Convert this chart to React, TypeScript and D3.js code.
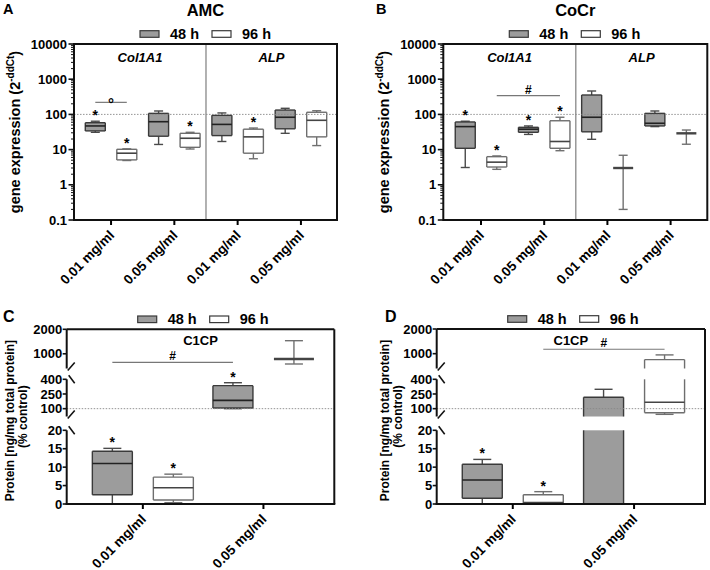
import React from "react";
import * as d3 from "d3";

const FONT = "'Liberation Sans', Arial, Helvetica, sans-serif";

// ---------- data ----------
const timepoints = ["48 h", "96 h"];
const genes = ["Col1A1", "ALP"];
const concentrations = ["0.01 mg/ml", "0.05 mg/ml"];
const logTickValues = [0.1, 1, 10, 100, 1000, 10000];

// box stats [min, q1, median, q3, max]; order: Col1A1 0.01, Col1A1 0.05, ALP 0.01, ALP 0.05
const amc48h = [[31, 34, 47, 58, 64], [14, 24, 62, 107, 125], [17, 25, 52, 94, 110], [29, 39, 83, 133, 149]];
const amc96h = [[4.9, 5.1, 7.9, 10.2, 10.5], [10.4, 11.6, 21, 29, 31], [5.5, 7.9, 23, 38, 41], [13, 23, 68, 115, 127]];
const amcStars48h = [true, false, false, false];
const amcStars96h = [true, true, true, false];

const cocr48h = [[3.1, 10.9, 45, 61, 64], [27, 31, 38, 43, 47], [19.6, 32, 83, 356, 462], [45, 47, 56, 107, 125]];
const cocr96h = [[2.75, 3.2, 4.4, 6.3, 6.6], [9.3, 10.9, 17, 66, 83], [0.2, 3, 3, 3, 6.9], [14.2, 29, 29, 29, 36]];
const cocrStars48h = [true, true, false, false];
const cocrStars96h = [true, true, false, false];

const proteinConcentrations = ["0.01 mg/ml", "0.05 mg/ml"];
const amcC1cp48h = [[0, 2.5, 11, 14.3, 15.1], [100, 107, 185, 335, 365]];
const amcC1cp96h = [[0.35, 1.1, 4.4, 7.3, 8.1], [584, 788, 788, 788, 1535]];
const amcC1cpStars48h = [true, true];
const amcC1cpStars96h = [true, false];

const cocrC1cp48h = [[0, 1.55, 6.5, 10.8, 12.1], [0, 0, 0, 216, 298]];
const cocrC1cp96h = [[0.1, 0.3, 0.4, 2.5, 3.35], [42, 59, 165, 759, 951]];
const cocrC1cpStars48h = [true, false];
const cocrC1cpStars96h = [true, false];

const brokenSegments = [[0, 20], [20, 400], [400, 2000]];
const brokenTicks = [[0, 5, 10, 15, 20], [100, 250, 400], [1000, 2000]];

// ---------- styles ----------
const BOX_STYLE: any = {
  "48 h": { fill: "#9c9c9c", stroke: "#3a3a3a", whisker: "#4a4a4a", median: "#222" },
  "96 h": { fill: "#ffffff", stroke: "#6e6e6e", whisker: "#707070", median: "#444" },
};

type Seg = { lo: number; hi: number; s: (v: number) => number };

function BoxGlyph({ cx, w, cap, stats, segs, style }: any) {
  const [mn, q1, md, q3, mx] = stats;
  const segOf = (v: number) => segs.find((s: Seg) => v >= s.lo && v <= s.hi) || segs[segs.length - 1];
  const Y = (v: number) => segOf(v).s(v);
  const clip = (a: number, b: number) =>
    segs
      .map((s: Seg) => [Math.max(a, s.lo), Math.min(b, s.hi), s] as [number, number, Seg])
      .filter(([a2, b2]: any) => b2 > a2);
  const els: any[] = [];
  [...clip(mn, q1), ...clip(q3, mx)].forEach(([a, b, s], i) => {
    els.push(<line key={"w" + i} x1={cx} x2={cx} y1={s.s(a)} y2={s.s(b)} stroke={style.whisker} strokeWidth={1.4} />);
  });
  if (mx > q3) els.push(<line key="cmax" x1={cx - cap / 2} x2={cx + cap / 2} y1={Y(mx)} y2={Y(mx)} stroke={style.whisker} strokeWidth={1.4} />);
  if (mn < q1) els.push(<line key="cmin" x1={cx - cap / 2} x2={cx + cap / 2} y1={Y(mn)} y2={Y(mn)} stroke={style.whisker} strokeWidth={1.4} />);
  clip(q1, q3).forEach(([a, b, s], i) => {
    const yt = s.s(b), yb = s.s(a);
    els.push(<rect key={"r" + i} x={cx - w / 2} y={yt} width={w} height={yb - yt} fill={style.fill} />);
    els.push(<line key={"sl" + i} x1={cx - w / 2} x2={cx - w / 2} y1={yt} y2={yb} stroke={style.stroke} strokeWidth={1.4} />);
    els.push(<line key={"sr" + i} x1={cx + w / 2} x2={cx + w / 2} y1={yt} y2={yb} stroke={style.stroke} strokeWidth={1.4} />);
    if (b === q3) els.push(<line key={"t" + i} x1={cx - w / 2} x2={cx + w / 2} y1={yt} y2={yt} stroke={style.stroke} strokeWidth={1.4} />);
    if (a === q1) els.push(<line key={"b" + i} x1={cx - w / 2} x2={cx + w / 2} y1={yb} y2={yb} stroke={style.stroke} strokeWidth={1.4} />);
  });
  els.push(<line key="md" x1={cx - w / 2} x2={cx + w / 2} y1={Y(md)} y2={Y(md)} stroke={style.median} strokeWidth={q1 === q3 ? 2.4 : 1.6} />);
  return <g>{els}</g>;
}

function Legend({ L, T, off }: any) {
  const yc = T - 10;
  const x0 = L + off;
  return (
    <g fontFamily={FONT} fontWeight="bold" fontSize={14.5}>
      <rect x={x0} y={yc - 3.3} width={19} height={6.6} fill={BOX_STYLE["48 h"].fill} stroke="#3a3a3a" strokeWidth={1.2} />
      <text x={x0 + 30} y={yc + 5}>{timepoints[0]}</text>
      <rect x={x0 + 72} y={yc - 3.3} width={19} height={6.6} fill="#fff" stroke="#3a3a3a" strokeWidth={1.2} />
      <text x={x0 + 102} y={yc + 5}>{timepoints[1]}</text>
    </g>
  );
}

function Bracket({ x1, x2, y, label, fontSize }: any) {
  return (
    <g>
      <line x1={x1} x2={x2} y1={y} y2={y} stroke="#777" strokeWidth={1.2} />
      <text x={(x1 + x2) / 2} y={label === "°" ? y + 6.5 : y - 2} textAnchor="middle" fontFamily={FONT} fontWeight="bold" fontSize={fontSize}>
        {label}
      </text>
    </g>
  );
}

function Star({ x, y }: any) {
  return (
    <text x={x} y={y} textAnchor="middle" fontFamily={FONT} fontWeight="bold" fontSize={14}>
      *
    </text>
  );
}

function XLabels({ xs, labels, B }: any) {
  return (
    <g fontFamily={FONT} fontWeight="bold" fontSize={13.5}>
      {xs.map((x: number, i: number) => (
        <g key={i}>
          <line x1={x} x2={x} y1={B} y2={B + 5} stroke="#000" strokeWidth={2} />
          <text transform={`translate(${x + 4},${B + 16}) rotate(-45)`} textAnchor="end">
            {labels[i]}
          </text>
        </g>
      ))}
    </g>
  );
}

function GenePanel(p: any) {
  const { L, R, T, B, po, align, title, letter, letterX, ylabX, d48, d96, s48, s96, bracket } = p;
  const y = d3.scaleLog().domain([0.1, 10000]).range([B, T]);
  const cats = genes.flatMap((g) => concentrations.map((c) => `${g}|${c}`));
  const x = d3.scaleBand().domain(cats).range([L, R]).paddingInner(0).paddingOuter(po).align(align);
  const off = d3.scalePoint().domain(timepoints).range([-15.75, 15.75]);
  const center = (i: number) => (x(cats[i]) as number) + x.bandwidth() / 2;
  const cx = (i: number, t: string) => center(i) + (off(t) as number);
  const segs: Seg[] = [{ lo: 0.1, hi: 10000, s: y }];
  const divider = x(cats[2]) as number;
  const minor: number[] = [];
  for (let k = -1; k < 4; k++) for (let m = 2; m <= 9; m++) minor.push(m * Math.pow(10, k));
  const series = [
    { t: timepoints[0], d: d48, s: s48 },
    { t: timepoints[1], d: d96, s: s96 },
  ];
  return (
    <g>
      <text x={letterX} y={14} fontFamily={FONT} fontWeight="bold" fontSize={14.5}>{letter}</text>
      <text x={(L + R) / 2} y={16} textAnchor="middle" fontFamily={FONT} fontWeight="bold" fontSize={16.5}>{title}</text>
      <Legend L={L} T={T} off={66} />
      <g fontFamily={FONT} fontWeight="bold" fontStyle="italic" fontSize={13}>
        <text x={(L + divider) / 2} y={T + 18} textAnchor="middle">{genes[0]}</text>
        <text x={(divider + R) / 2} y={T + 18} textAnchor="middle">{genes[1]}</text>
      </g>
      <line x1={divider} x2={divider} y1={T} y2={B} stroke="#888" strokeWidth={1.3} />
      {series.map((sr) =>
        sr.d.map((st: number[], i: number) => (
          <BoxGlyph key={sr.t + i} cx={cx(i, sr.t)} w={20} cap={9} stats={st} segs={segs} style={BOX_STYLE[sr.t]} />
        ))
      )}
      <line x1={L} x2={R} y1={y(100)} y2={y(100)} stroke="#888" strokeWidth={0.9} strokeDasharray="1.5,1.5" />
      {series.map((sr) =>
        sr.s.map((on: boolean, i: number) => (on ? <Star key={"st" + sr.t + i} x={cx(i, sr.t)} y={y(sr.d[i][4]) - 1} /> : null))
      )}
      <Bracket x1={cx(bracket.from[0], bracket.from[1])} x2={cx(bracket.to[0], bracket.to[1])} y={y(bracket.value)} label={bracket.label} fontSize={bracket.label === "°" ? 15 : 12} />
      <rect x={L} y={T} width={R - L} height={B - T} fill="none" stroke="#111" strokeWidth={2} />
      {minor.map((v) => (
        <line key={"mn" + v} x1={L - 3} x2={L} y1={y(v)} y2={y(v)} stroke="#111" strokeWidth={1} />
      ))}
      <g fontFamily={FONT} fontWeight="bold" fontSize={13}>
        {logTickValues.map((v) => (
          <g key={"t" + v}>
            <line x1={L - 5.5} x2={L} y1={y(v)} y2={y(v)} stroke="#111" strokeWidth={1.6} />
            <text x={L - 7} y={y(v)} dy="0.36em" textAnchor="end">{d3.format("~g")(v)}</text>
          </g>
        ))}
      </g>
      <text transform={`translate(${ylabX},${(T + B) / 2}) rotate(-90)`} textAnchor="middle" fontFamily={FONT} fontWeight="bold" fontSize={14.5}>
        <tspan>gene expression (2</tspan>
        <tspan dy={-6} fontSize={10}>-ddCt</tspan>
        <tspan dy={6}>)</tspan>
      </text>
      <XLabels xs={cats.map((_, i) => center(i))} labels={cats.map((c) => c.split("|")[1])} B={B} />
    </g>
  );
}

function ProteinPanel(p: any) {
  const { L, R, T, B, po, align, letter, letterX, ylabX1, ylabX2, d48, d96, s48, s96, bracket, segPx } = p;
  const segs: Seg[] = brokenSegments.map((dom, i) => {
    const sc = d3.scaleLinear().domain(dom).range(segPx[i]);
    return { lo: dom[0], hi: dom[1], s: (v: number) => sc(v) };
  });
  const yAny = (v: number) => (segs.find((s) => v >= s.lo && v <= s.hi) || segs[2]).s(v);
  const x = d3.scaleBand().domain(proteinConcentrations).range([L, R]).paddingInner(0).paddingOuter(po).align(align);
  const off = d3.scalePoint().domain(timepoints).range([-30.5, 30.5]);
  const center = (i: number) => (x(proteinConcentrations[i]) as number) + x.bandwidth() / 2;
  const cx = (i: number, t: string) => center(i) + (off(t) as number);
  const series = [
    { t: timepoints[0], d: d48, s: s48 },
    { t: timepoints[1], d: d96, s: s96 },
  ];
  return (
    <g>
      <text x={letterX} y={T - 7} fontFamily={FONT} fontWeight="bold" fontSize={16}>{letter}</text>
      <Legend L={L} T={T} off={71} />
      <text x={(L + R) / 2} y={T + 16} textAnchor="middle" fontFamily={FONT} fontWeight="bold" fontSize={13}>C1CP</text>
      {series.map((sr) =>
        sr.d.map((st: number[], i: number) => (
          <BoxGlyph key={sr.t + i} cx={cx(i, sr.t)} w={40} cap={18} stats={st} segs={segs} style={BOX_STYLE[sr.t]} />
        ))
      )}
      <line x1={L} x2={R} y1={yAny(100)} y2={yAny(100)} stroke="#888" strokeWidth={0.9} strokeDasharray="1.5,1.5" />
      {series.map((sr) =>
        sr.s.map((on: boolean, i: number) => (on ? <Star key={"st" + sr.t + i} x={cx(i, sr.t)} y={yAny(sr.d[i][4]) - 1} /> : null))
      )}
      <Bracket x1={cx(bracket.from[0], bracket.from[1])} x2={cx(bracket.to[0], bracket.to[1])} y={yAny(bracket.value)} label={bracket.label} fontSize={12} />
      <line x1={L} x2={R} y1={T} y2={T} stroke="#111" strokeWidth={2} />
      <line x1={R} x2={R} y1={T} y2={B} stroke="#111" strokeWidth={2} />
      <line x1={L - 1} x2={R + 1} y1={B} y2={B} stroke="#111" strokeWidth={2} />
      {segs.map((s, i) => (
        <line key={"ax" + i} x1={L} x2={L} y1={s.s(s.lo) + (i === 0 ? 1 : 0)} y2={s.s(s.hi)} stroke="#111" strokeWidth={2} />
      ))}
      {segs.slice(0, -1).map((s, i) => (
        <g key={"br" + i}>
          <line x1={L + 2} x2={L + 8} y1={s.s(s.hi) - 4} y2={s.s(s.hi) + 4} stroke="#111" strokeWidth={1.6} />
          <line x1={L + 1} x2={L + 8} y1={segs[i + 1].s(segs[i + 1].lo) + 2} y2={segs[i + 1].s(segs[i + 1].lo) - 6} stroke="#111" strokeWidth={1.6} />
        </g>
      ))}
      <g fontFamily={FONT} fontWeight="bold" fontSize={13}>
        {brokenTicks.map((ticks, i) =>
          ticks.map((v) => (
            <g key={"t" + i + "_" + v}>
              <line x1={L - 4} x2={L} y1={segs[i].s(v)} y2={segs[i].s(v)} stroke="#111" strokeWidth={1.6} />
              <text x={L - 4.5} y={segs[i].s(v)} dy="0.36em" textAnchor="end">{v}</text>
            </g>
          ))
        )}
      </g>
      <g fontFamily={FONT} fontWeight="bold" fontSize={12}>
        <text transform={`translate(${ylabX1},${(T + B) / 2 + 4}) rotate(-90)`} textAnchor="middle">Protein [ng/mg total protein]</text>
        <text transform={`translate(${ylabX2},${(T + B) / 2}) rotate(-90)`} textAnchor="middle">(% control)</text>
      </g>
      <XLabels xs={proteinConcentrations.map((_, i) => center(i))} labels={proteinConcentrations} B={B} />
    </g>
  );
}

export default function App() {
  return (
    <svg width={710} height={570} viewBox="0 0 710 570" style={{ position: "absolute", left: 0, top: 0, background: "#fff" }}>
      <rect width={710} height={570} fill="#fff" />
      <GenePanel
        L={74} R={337} T={44} B={220} po={0.0775} align={0.55}
        title="AMC" letter="A" letterX={3} ylabX={20}
        d48={amc48h} d96={amc96h} s48={amcStars48h} s96={amcStars96h}
        bracket={{ from: [0, "48 h"], to: [0, "96 h"], value: 220, label: "°" }}
      />
      <GenePanel
        L={443.3} R={707.3} T={44} B={220} po={0.0886} align={0.545}
        title="CoCr" letter="B" letterX={376} ylabX={389}
        d48={cocr48h} d96={cocr96h} s48={cocrStars48h} s96={cocrStars96h}
        bracket={{ from: [0, "96 h"], to: [1, "96 h"], value: 340, label: "#" }}
      />
      <ProteinPanel
        L={66.7} R={334.3} T={329.3} B={504} po={0.1095} align={0.6}
        letter="C" letterX={3} ylabX1={13.5} ylabX2={27}
        d48={amcC1cp48h} d96={amcC1cp96h} s48={amcC1cpStars48h} s96={amcC1cpStars96h}
        bracket={{ from: [0, "48 h"], to: [1, "48 h"], value: 650, label: "#" }}
        segPx={[[504, 430.3], [416.5, 379.3], [368.5, 329.3]]}
      />
      <ProteinPanel
        L={436.7} R={705} T={329} B={504} po={0.106} align={0.6}
        letter="D" letterX={385} ylabX1={388.5} ylabX2={402}
        d48={cocrC1cp48h} d96={cocrC1cp96h} s48={cocrC1cpStars48h} s96={cocrC1cpStars96h}
        bracket={{ from: [0, "96 h"], to: [1, "96 h"], value: 1180, label: "#" }}
        segPx={[[504, 430.3], [416.5, 379.3], [368.5, 329]]}
      />
    </svg>
  );
}
